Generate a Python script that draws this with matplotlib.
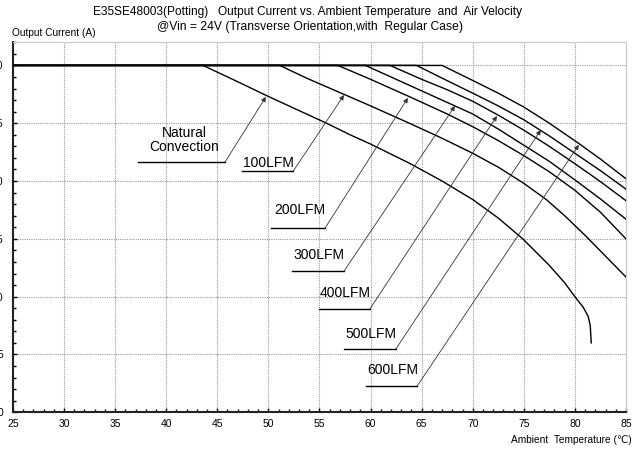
import matplotlib
matplotlib.use("Agg")
import matplotlib.pyplot as plt
from matplotlib.ticker import MultipleLocator

plt.rcParams['font.family'] = ['Liberation Sans', 'DejaVu Sans']

# ---------------- data ----------------
nc_t = [25, 43.6, 46.5, 49.8, 52.5, 55.7, 58, 60, 63.9, 67, 70, 72.5, 74.9,
        77.5, 79, 80, 80.8, 81.3, 81.5, 81.6]
nc_i = [30, 30, 28.8, 27.4, 26.3, 25.0, 24.0, 23.2, 21.5, 20.0, 18.4, 16.8, 15.0,
        12.7, 11.2, 10.0, 9.1, 8.3, 7.5, 6.0]

lfm100_t = [25, 51.1, 54, 57.4, 60, 63.8, 67, 70, 72.5, 75, 77.2, 79, 81, 83, 85]
lfm100_i = [30, 30, 28.8, 27.5, 26.5, 25.0, 23.7, 22.4, 21.2, 19.8, 18.4, 17.0,
            15.3, 13.5, 11.7]

lfm200_t = [25, 56.8, 60, 63.8, 67.5, 70, 72.5, 75, 77.5, 80, 82.5, 85]
lfm200_i = [30, 30, 28.8, 27.3, 25.8, 24.7, 23.5, 22.2, 20.8, 19.2, 17.3, 15.0]

lfm300_t = [25, 59.5, 62.5, 65, 67.5, 70, 72.5, 75, 77.5, 80, 82.5, 85]
lfm300_i = [30, 30, 28.8, 27.8, 26.8, 25.8, 24.5, 23.1, 21.7, 20.1, 18.45, 16.7]

lfm400_t = [25, 61.9, 65, 67.5, 70, 72.5, 75, 77.5, 80, 82.5, 85]
lfm400_i = [30, 30, 28.8, 27.9, 26.9, 25.7, 24.4, 23.0, 21.5, 19.95, 18.3]

lfm500_t = [25, 64.5, 67, 70, 72.5, 75, 77.5, 80, 82.5, 85]
lfm500_i = [30, 30, 28.9, 27.6, 26.5, 25.3, 23.9, 22.4, 20.9, 19.3]

lfm600_t = [25, 67.0, 70, 72.5, 75, 77.5, 80.3, 82.5, 85]
lfm600_i = [30, 30, 28.7, 27.6, 26.4, 25.0, 23.3, 21.9, 20.2]

curve_labels = ["Natural\nConvection", "100LFM", "200LFM", "300LFM",
                "400LFM", "500LFM", "600LFM"]

x_ticks = list(range(25, 90, 5))
y_ticks = list(range(0, 35, 5))

title_line1 = "E35SE48003(Potting)   Output Current vs. Ambient Temperature  and  Air Velocity"
title_line2 = "@Vin = 24V (Transverse Orientation,with  Regular Case)"
y_title = "Output Current (A)"
x_title = "Ambient  Temperature (\u2103)"

# ---------------- figure ----------------
W, H = 643, 451
fig = plt.figure(figsize=(W / 100, H / 100), dpi=100)
ax = fig.add_axes([12.9 / W, 1 - 412.3 / H, (626 - 12.9) / W, (412.3 - 42.3) / H])

series = [(nc_t, nc_i), (lfm100_t, lfm100_i), (lfm200_t, lfm200_i),
          (lfm300_t, lfm300_i), (lfm400_t, lfm400_i), (lfm500_t, lfm500_i),
          (lfm600_t, lfm600_i)]
for t, i in series:
    ax.plot(t, i, color='black', lw=1.0, solid_joinstyle='round', zorder=3)

ax.set_xlim(25, 85)
ax.set_ylim(0, 32)
ax.set_xticks(x_ticks)
ax.set_yticks(y_ticks)
ax.set_xticklabels([str(v) for v in x_ticks])
ax.set_yticklabels([str(v) for v in y_ticks])
ax.xaxis.set_minor_locator(MultipleLocator(1))
ax.yaxis.set_minor_locator(MultipleLocator(1))
ax.tick_params(which='both', direction='in', color='black', width=1.0)
ax.tick_params(which='major', length=3)
ax.tick_params(which='minor', length=2.2)
ax.tick_params(axis='x', labelsize=7.5, pad=5)
ax.tick_params(axis='y', labelsize=7.5, pad=7)
ax.tick_params(top=False, right=False, which='both')

ax.grid(True, which='major', color='#9a9a9a', linestyle=(0, (1, 1)), linewidth=0.8)
for side in ['left', 'bottom']:
    ax.spines[side].set_color('#222222')
    ax.spines[side].set_linewidth(1.5)
for side in ['top', 'right']:
    ax.spines[side].set_color('#c8c8c8')
    ax.spines[side].set_linewidth(0.8)

# ---------------- annotations (layout) ----------------
# (text x, text y, underline x0, underline x1, underline y, arrow tip x, arrow tip y)
layout = [
    (41.74, 23.56, 37.21, 45.75, 21.63, 49.76, 27.28),
    (49.99, 21.54, 47.39, 52.44, 20.87, 57.40, 27.44),
    (53.09, 17.47, 50.25, 55.54, 15.92, 63.66, 27.19),
    (54.97, 13.58, 52.34, 57.40, 12.20, 68.26, 26.50),
    (57.54, 10.34, 54.95, 59.94, 8.94, 72.37, 25.63),
    (60.02, 6.79, 57.43, 62.46, 5.45, 76.67, 24.42),
    (62.20, 3.66, 59.55, 64.57, 2.28, 80.38, 23.13),
]
for lab, (tx, ty, u0, u1, uy, ax_, ay) in zip(curve_labels, layout):
    ax.text(tx, ty, lab, ha='center', va='center', fontsize=10,
            multialignment='center', linespacing=1.05, zorder=4)
    ax.plot([u0, u1], [uy, uy], color='black', lw=1.0, zorder=4)
    ax.annotate('', xy=(ax_, ay), xytext=(u1, uy),
                arrowprops=dict(arrowstyle='-|>', color='#333333', lw=0.6,
                                mutation_scale=7, shrinkA=0, shrinkB=0),
                zorder=4)

fig.text(308 / W, 1 - 12 / H, title_line1, ha='center', va='center', fontsize=8.6)
fig.text(310 / W, 1 - 27 / H, title_line2, ha='center', va='center', fontsize=8.7)
fig.text(12 / W, 1 - 33 / H, y_title, ha='left', va='center', fontsize=7.3)
fig.text(632 / W, 1 - 440 / H, x_title, ha='right', va='center', fontsize=7.3)

fig.savefig("out.png", dpi=100)
